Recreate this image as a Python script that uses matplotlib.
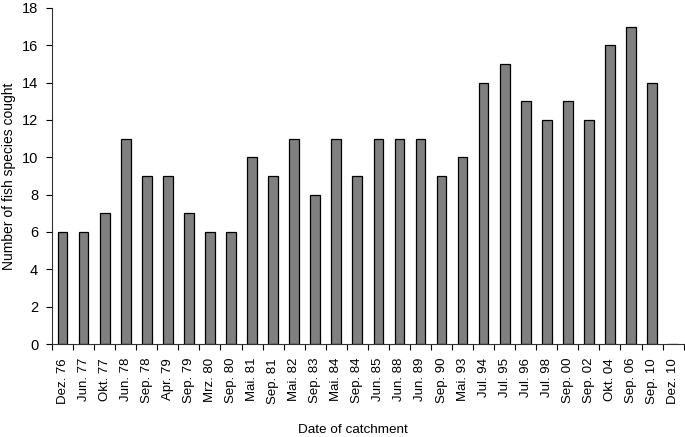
import numpy as np
import matplotlib
matplotlib.use("Agg")
import matplotlib.pyplot as plt

plt.rcParams['font.family'] = ['Liberation Sans', 'DejaVu Sans']

dates = ["Dez. 76", "Jun. 77", "Okt. 77", "Jun. 78", "Sep. 78", "Apr. 79", "Sep. 79",
         "Mrz. 80", "Sep. 80", "Mai. 81", "Sep. 81", "Mai. 82", "Sep. 83", "Mai. 84",
         "Sep. 84", "Jun. 85", "Jun. 88", "Jun. 89", "Sep. 90", "Mai. 93", "Jul. 94",
         "Jul. 95", "Jul. 96", "Jul. 98", "Sep. 00", "Sep. 02", "Okt. 04", "Sep. 06",
         "Sep. 10", "Dez. 10"]
species = [6, 6, 7, 11, 9, 9, 7, 6, 6, 10, 9, 11, 8, 11, 9, 11, 11, 11, 9, 10,
           14, 15, 13, 12, 13, 12, 16, 17, 14, 0]

fig = plt.figure(figsize=(6.85, 4.37), dpi=100)
ax = fig.add_axes([0.076, 0.2128, 0.922, 0.769])

x = np.arange(len(dates))
ax.bar(x, species, width=0.46, color="#808080", edgecolor="black", linewidth=0.9)

ax.set_xlim(-0.5, len(dates) - 0.5)
ax.set_ylim(0, 18)
ax.set_yticks(range(0, 19, 2))
ax.set_xticks(x)
ax.set_xticklabels(dates, rotation=90, fontsize=9.5)
ax.set_xticks(np.arange(-0.5, len(dates), 1), minor=True)
ax.tick_params(axis="x", which="major", length=0, pad=10)
ax.tick_params(axis="x", which="minor", length=4, width=0.8, direction="out")
ax.tick_params(axis="y", length=4, width=0.8, labelsize=10.5, pad=6)

for s in ["top", "right"]:
    ax.spines[s].set_visible(False)
for s in ["left", "bottom"]:
    ax.spines[s].set_linewidth(0.8)
    ax.spines[s].set_color("#333333")

ax.set_ylabel("Number of fish species cought", fontsize=10)
ax.set_xlabel("Date of catchment", fontsize=9.7)
ax.xaxis.set_label_coords(0.476, -0.238)

fig.savefig("out.png", dpi=100)
